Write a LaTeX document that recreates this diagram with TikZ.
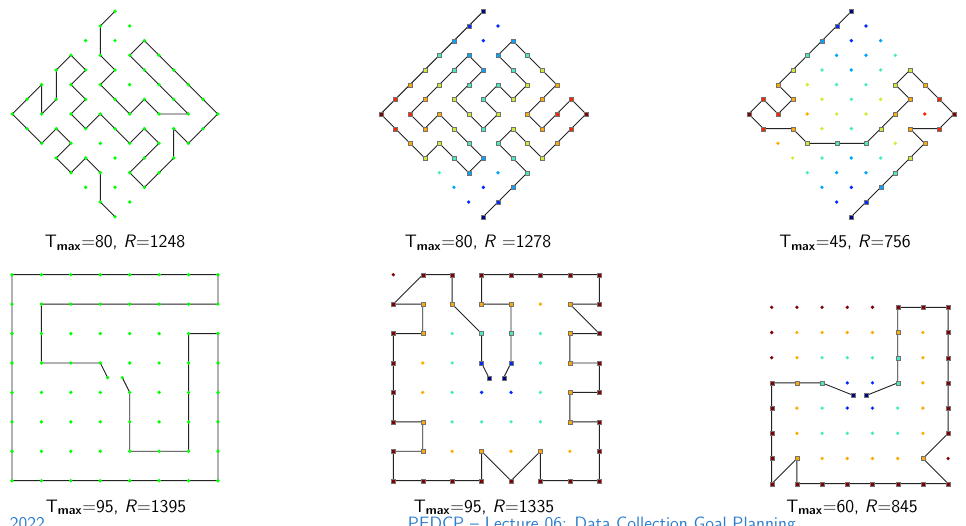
\documentclass[tikz,border=0pt]{standalone}
\usepackage{amsmath,amssymb}
\usepackage{xcolor}
\usepackage{tikz}
\usetikzlibrary{calc,positioning}
\definecolor{cJet0}{RGB}{0,0,130}
\definecolor{cJet1}{RGB}{0,40,255}
\definecolor{cJet2}{RGB}{0,165,255}
\definecolor{cJet3}{RGB}{70,235,195}
\definecolor{cJet4}{RGB}{200,240,50}
\definecolor{cJet5}{RGB}{255,170,0}
\definecolor{cJet6}{RGB}{255,35,0}
\definecolor{cJet7}{RGB}{130,0,0}
\definecolor{cGreen}{RGB}{0,255,0}
\definecolor{cRoute}{RGB}{35,35,35}
\definecolor{cFoot}{RGB}{45,125,205}
\tikzset{
  route/.style={cRoute,line width=0.65pt,line join=round},
  visit/.style={draw=black!55,line width=0.2pt},
  lbl/.style={font=\sffamily\fontsize{12.8}{14}\selectfont,anchor=base},
  foot/.style={cFoot,font=\sffamily\fontsize{12.7}{14}\selectfont,anchor=base west}
}
% routes: (u/v) on the rotated grid, (col/row) on the square grid
\def\routeA{0/7,-1/6,-1/4,0/3,-1/2,0/1,1/0,2/1,3/0,5/0,4/1,3/2,2/3,1/4,2/5,3/4,4/3,5/2,6/1,7/0,6/-1,5/-2,4/-1,4/-3,3/-4,2/-5,1/-4,2/-3,3/-2,2/-1,1/-2,0/-1,-1/0,-2/-1,-3/0,-2/1,-3/2,-2/3,-3/4,-4/3,-4/1,-5/0,-5/2,-6/1,-7/0,-6/-1,-5/-2,-4/-1,-3/-2,-4/-3,-3/-4,-2/-3,-1/-4,-1/-6,0/-7}
\def\routeB{0/7,-1/6,-2/5,-3/4,-4/3,-5/2,-6/1,-7/0,-6/-1,-5/-2,-4/-3,-3/-2,-2/-3,-1/-4,0/-3,-1/-2,-2/-1,-3/0,-4/-1,-5/0,-4/1,-3/2,-2/3,-1/4,0/3,-1/2,-2/1,-1/0,0/-1,1/0,0/1,1/2,2/1,3/2,2/3,1/4,2/5,3/4,4/3,5/2,4/1,3/0,4/-1,5/0,6/1,7/0,6/-1,5/-2,4/-3,3/-2,2/-1,1/-2,2/-3,3/-4,2/-5,1/-6,0/-7}
\def\routeC{0/7,-1/6,-2/5,-3/4,-4/3,-5/2,-4/1,-5/0,-6/1,-7/0,-6/-1,-4/-1,-3/-2,-1/-2,1/-2,2/-1,3/0,4/1,3/2,4/3,5/2,6/1,7/0,6/-1,4/-1,5/-2,4/-3,3/-4,2/-5,1/-6,0/-7}
\def\routeD{3.25/3.5,3/3,1/3,1/1,7/1,7/0,0/0,0/7,7/7,7/2,6/2,6/6,4/6,4/4,3.75/3.5}
\def\routeE{3.25/3.5,3/3,3/2,2/1,2/0,1/0,0/1,1/1,1/2,0/2,0/3,0/4,0/5,1/5,1/6,0/6,0/7,1/7,2/7,3/7,3/6,4/7,5/6,5/7,6/7,7/7,7/6,7/5,6/5,6/4,7/4,7/3,6/3,6/2,7/2,6/1,7/1,7/0,6/0,5/0,4/0,3/0,3/1,4/1,4/2,4/3,3.75/3.5}
\def\routeF{3.25/3.5,2/3,1/3,0/3,0/4,0/5,0/6,0/7,1/6,1/7,2/7,3/7,4/7,5/7,6/7,7/7,6/6,7/5,7/4,7/3,7/2,7/1,7/0,6/0,5/0,5/1,5/2,5/3,3.75/3.5}

\begin{document}
\begin{tikzpicture}[scale=1.0]
  \useasboundingbox (0,0) rectangle (24.15,13.125);
  % top row: 8x8 grid turned by 45 degrees
  \begin{scope}[shift={(2.875cm,10.275cm)},x=0.3667cm,y=0.3667cm]
    \draw[route] (0,7) \foreach \x/\y in \routeA {-- (\x,\y)};
    \foreach \p in {0,...,7} \foreach \q in {0,...,7}
      \fill[cGreen] ({\p-\q},{\p+\q-7}) circle (0.046cm);
  \end{scope}
  \begin{scope}[shift={(12.083cm,10.275cm)},x=0.3667cm,y=0.3667cm]
    \foreach \p in {0,...,7} \foreach \q in {0,...,7} {
      \pgfmathtruncatemacro\lv{(abs(\p-\q)-abs(\p+\q-7)+7)/2}
      \fill[cJet\lv] ({\p-\q},{\p+\q-7}) circle (0.046cm);
    }
    \draw[route] (0,7) \foreach \x/\y in \routeB {-- (\x,\y)};
    \foreach \x/\y in \routeB {
      \pgfmathtruncatemacro\lv{(abs(\x)-abs(\y)+7)/2}
      \filldraw[visit,fill=cJet\lv] (\x,\y) +(-0.05cm,-0.05cm) rectangle +(0.05cm,0.05cm);
    }
  \end{scope}
  \begin{scope}[shift={(21.283cm,10.275cm)},x=0.3667cm,y=0.3667cm]
    \foreach \p in {0,...,7} \foreach \q in {0,...,7} {
      \pgfmathtruncatemacro\lv{(abs(\p-\q)-abs(\p+\q-7)+7)/2}
      \fill[cJet\lv] ({\p-\q},{\p+\q-7}) circle (0.046cm);
    }
    \draw[route] (0,7) \foreach \x/\y in \routeC {-- (\x,\y)};
    \foreach \x/\y in \routeC {
      \pgfmathtruncatemacro\lv{(abs(\x)-abs(\y)+7)/2}
      \filldraw[visit,fill=cJet\lv] (\x,\y) +(-0.05cm,-0.05cm) rectangle +(0.05cm,0.05cm);
    }
  \end{scope}
  % bottom row: square grid, start/end in the middle
  \begin{scope}[shift={(0.3cm,6.2575cm)},x=0.7357cm,y=-0.7357cm]
    \draw[route] (3.25,3.5) \foreach \x/\y in \routeD {-- (\x,\y)};
    \foreach \x in {0,...,7} \foreach \y in {0,...,7}
      \fill[cGreen] (\x,\y) circle (0.046cm);
    \foreach \x in {3.25,3.75} \fill[cGreen] (\x,3.5) circle (0.046cm);
  \end{scope}
  \begin{scope}[shift={(9.8325cm,6.2575cm)},x=0.7357cm,y=-0.7357cm]
    \foreach \x in {0,...,7} \foreach \y in {0,...,7} {
      \pgfmathtruncatemacro\lv{7-2*min(\x,\y,7-\x,7-\y)}
      \fill[cJet\lv] (\x,\y) circle (0.046cm);
    }
    \draw[route] (3.25,3.5) \foreach \x/\y in \routeE {-- (\x,\y)};
    \foreach \x/\y in \routeE {
      \pgfmathtruncatemacro\lv{7-2*min(\x,\y,7-\x,7-\y)}
      \filldraw[visit,fill=cJet\lv] (\x,\y) +(-0.05cm,-0.05cm) rectangle +(0.05cm,0.05cm);
    }
  \end{scope}
  \begin{scope}[shift={(19.2925cm,5.4425cm)},x=0.63cm,y=-0.63cm]
    \foreach \x in {0,...,7} \foreach \y in {0,...,7} {
      \pgfmathtruncatemacro\lv{7-2*min(\x,\y,7-\x,7-\y)}
      \fill[cJet\lv] (\x,\y) circle (0.046cm);
    }
    \draw[route] (3.25,3.5) \foreach \x/\y in \routeF {-- (\x,\y)};
    \foreach \x/\y in \routeF {
      \pgfmathtruncatemacro\lv{7-2*min(\x,\y,7-\x,7-\y)}
      \filldraw[visit,fill=cJet\lv] (\x,\y) +(-0.05cm,-0.05cm) rectangle +(0.05cm,0.05cm);
    }
  \end{scope}
  % captions
  \node[lbl] (capA) at (2.875,6.93) {T$_{\textbf{max}}$=80, \textit{R}=1248};
  \node[lbl] (capB) at (11.95,6.93) {T$_{\textbf{max}}$=80, \textit{R} =1278};
  \node[lbl] (capC) at (21.125,6.93) {T$_{\textbf{max}}$=45, \textit{R}=756};
  \node[lbl] (capD) at (2.9,0.3175) {T$_{\textbf{max}}$=95, \textit{R}=1395};
  \node[lbl] (capE) at (12.1,0.3175) {T$_{\textbf{max}}$=95, \textit{R}=1335};
  \node[lbl] (capF) at (21.3,0.3175) {T$_{\textbf{max}}$=60, \textit{R}=845};
  % footline, cut by the page edge
  \node[foot] (footYear) at (0.125,-0.12) {2022};
  \node[foot] (footTitle) at (10.075,-0.12) {PEDCP -- Lecture 06: Data Collection Goal Planning};
\end{tikzpicture}
\end{document}
